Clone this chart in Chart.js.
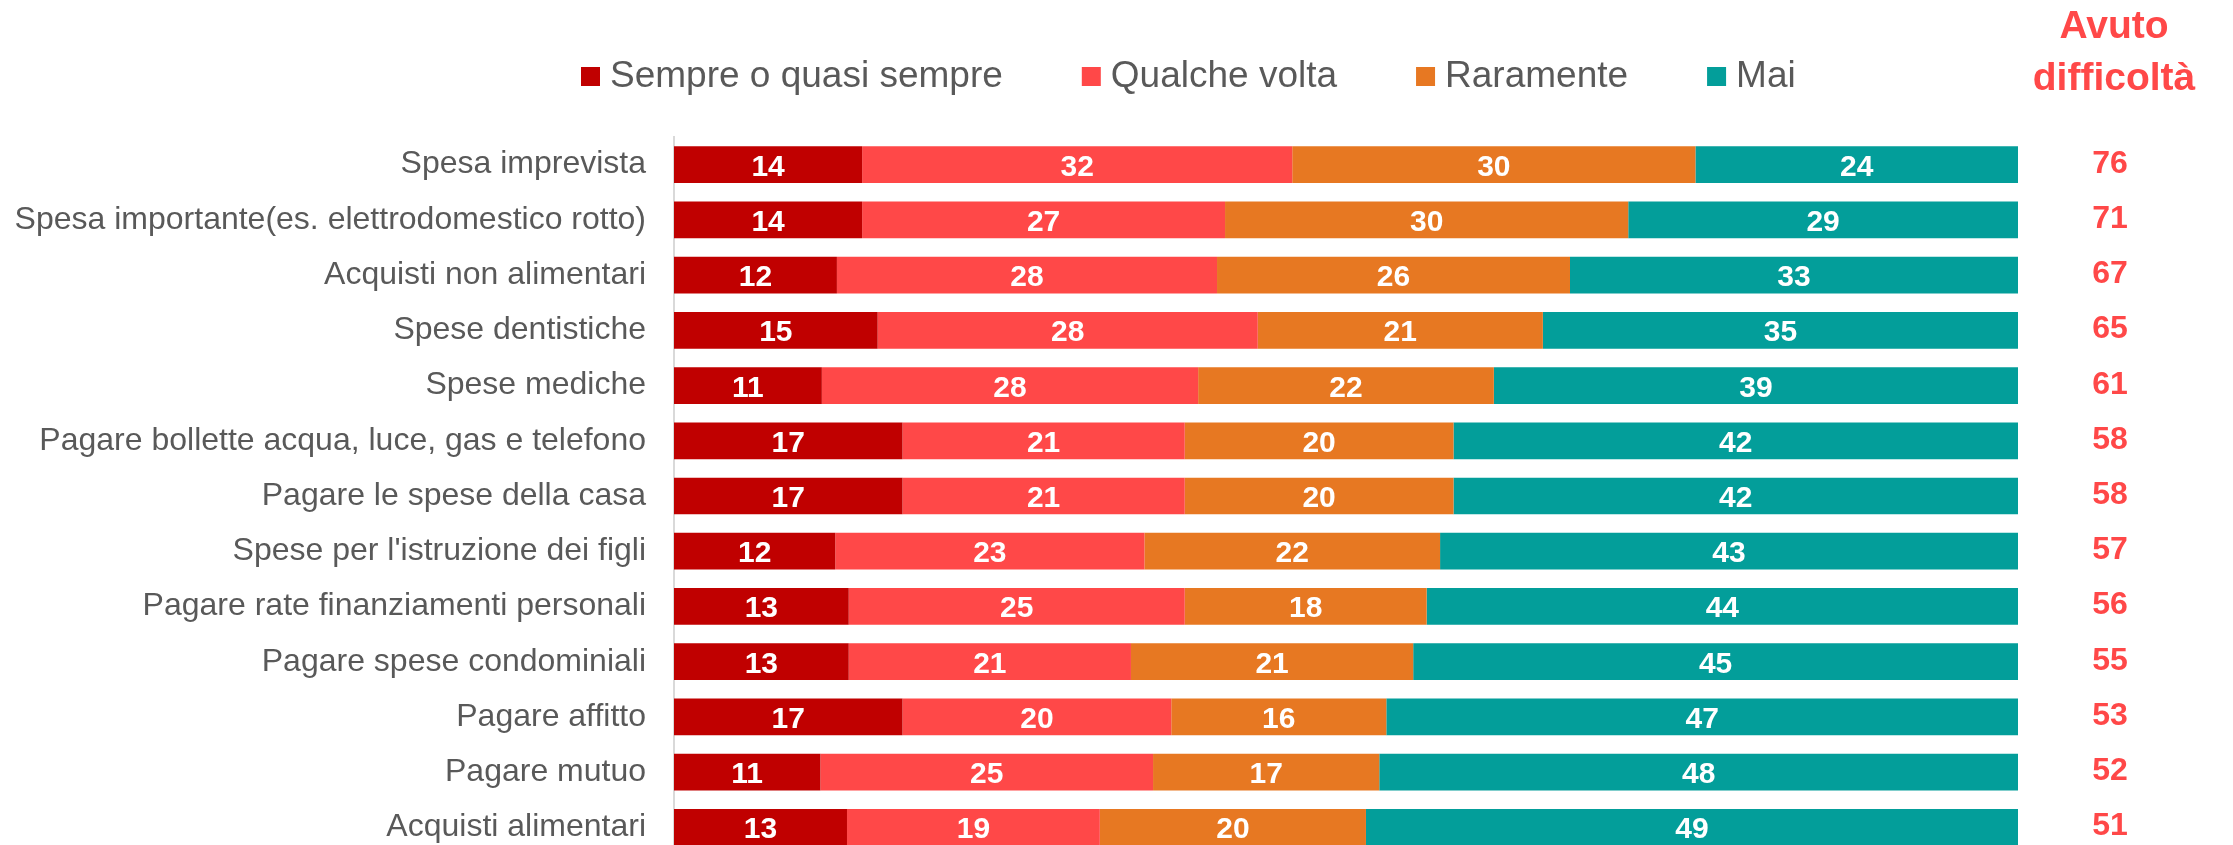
<!DOCTYPE html>
<html>
<head>
<meta charset="utf-8">
<script src="https://cdn.jsdelivr.net/npm/chart.js@4"></script>
<style>
html,body{margin:0;padding:0;overflow:hidden;background:#ffffff;width:2233px;height:845px}
#wrap{position:relative;left:0;top:0;width:2233px;height:845px;overflow:hidden}
canvas{display:block;position:absolute;left:0;top:0}
</style>
</head>
<body>
<div id="wrap"><canvas id="c" width="2233" height="870"></canvas></div>
<script>
// ---- data ----
const categories = [
  'Spesa imprevista',
  'Spesa importante(es. elettrodomestico rotto)',
  'Acquisti non alimentari',
  'Spese dentistiche',
  'Spese mediche',
  'Pagare bollette acqua, luce, gas e telefono',
  'Pagare le spese della casa',
  "Spese per l'istruzione dei figli",
  'Pagare rate finanziamenti personali',
  'Pagare spese condominiali',
  'Pagare affitto',
  'Pagare mutuo',
  'Acquisti alimentari'
];
const seriesNames = ['Sempre o quasi sempre', 'Qualche volta', 'Raramente', 'Mai'];
const sempre    = [14, 14, 12, 15, 11, 17, 17, 12, 13, 13, 17, 11, 13];
const qualche   = [32, 27, 28, 28, 28, 21, 21, 23, 25, 21, 20, 25, 19];
const raramente = [30, 30, 26, 21, 22, 20, 20, 22, 18, 21, 16, 17, 20];
const mai       = [24, 29, 33, 35, 39, 42, 42, 43, 44, 45, 47, 48, 49];
const avutoDifficolta = [76, 71, 67, 65, 61, 58, 58, 57, 56, 55, 53, 52, 51];
const headerLines = ['Avuto', 'difficoltà'];

// ---- styles ----
const colors = ['#C00000', '#FF4848', '#E77822', '#039E9A'];
const FONT = '"Liberation Sans", Arial, Helvetica, sans-serif';
const GREY = '#595959';
const ACCENT = '#FF4848';

const rawSeries = [sempre, qualche, raramente, mai];
const rowTotals = categories.map((_, i) => rawSeries.reduce((s, a) => s + a[i], 0));

const datasets = rawSeries.map((arr, k) => ({
  label: seriesNames[k],
  rawValues: arr,
  data: arr.map((v, i) => v / rowTotals[i] * 100),
  backgroundColor: colors[k],
  borderWidth: 0,
  categoryPercentage: 1,
  barPercentage: 0.665
}));

const valueLabels = {
  id: 'valueLabels',
  afterDatasetsDraw(chart) {
    const ctx = chart.ctx;
    ctx.save();
    ctx.font = 'bold 30px ' + FONT;
    ctx.fillStyle = '#ffffff';
    ctx.textAlign = 'center';
    ctx.textBaseline = 'alphabetic';
    chart.data.datasets.forEach((ds, k) => {
      const meta = chart.getDatasetMeta(k);
      meta.data.forEach((el, i) => {
        const cx = (el.x + el.base) / 2;
        ctx.fillText(String(ds.rawValues[i]), cx, el.y + 11);
      });
    });
    ctx.restore();
  }
};

const sideColumn = {
  id: 'sideColumn',
  afterDraw(chart) {
    const ctx = chart.ctx;
    const y = chart.scales.y;
    ctx.save();
    ctx.fillStyle = ACCENT;
    ctx.textAlign = 'center';
    ctx.textBaseline = 'alphabetic';
    ctx.font = 'bold 39px ' + FONT;
    ctx.fillText(headerLines[0], 2114, 38);
    ctx.fillText(headerLines[1], 2114, 90);
    ctx.font = 'bold 32px ' + FONT;
    avutoDifficolta.forEach((v, i) => {
      ctx.fillText(String(v), 2110, y.getPixelForValue(i) + 8);
    });
    ctx.restore();
  }
};

const customLegend = {
  id: 'customLegend',
  afterDraw(chart) {
    const ctx = chart.ctx;
    ctx.save();
    ctx.font = '37px ' + FONT;
    ctx.textBaseline = 'alphabetic';
    ctx.textAlign = 'left';
    let x = 581;
    chart.data.datasets.forEach((ds, k) => {
      ctx.fillStyle = ds.backgroundColor;
      ctx.fillRect(x, 67, 19, 19);
      ctx.fillStyle = GREY;
      const tx = x + 29;
      ctx.fillText(ds.label, tx, 87);
      x = tx + ctx.measureText(ds.label).width + 79;
    });
    ctx.restore();
  }
};

new Chart(document.getElementById('c'), {
  type: 'bar',
  data: { labels: categories, datasets },
  plugins: [valueLabels, sideColumn, customLegend],
  options: {
    indexAxis: 'y',
    responsive: false,
    animation: false,
    devicePixelRatio: 1,
    layout: { padding: { left: 0, right: 215, top: 137, bottom: 15 } },
    plugins: { legend: { display: false }, tooltip: { enabled: false }, title: { display: false } },
    scales: {
      x: { stacked: true, min: 0, max: 100, display: false },
      y: {
        stacked: true,
        grid: { display: false, drawTicks: false },
        border: { display: true, color: '#D9D9D9', width: 2 },
        ticks: { color: GREY, font: { family: FONT, size: 32 }, padding: 28, autoSkip: false },
        afterFit(axis) { axis.width = 674; axis.paddingTop = 0; axis.paddingBottom = 0; }
      }
    }
  }
});
</script>
</body>
</html>
